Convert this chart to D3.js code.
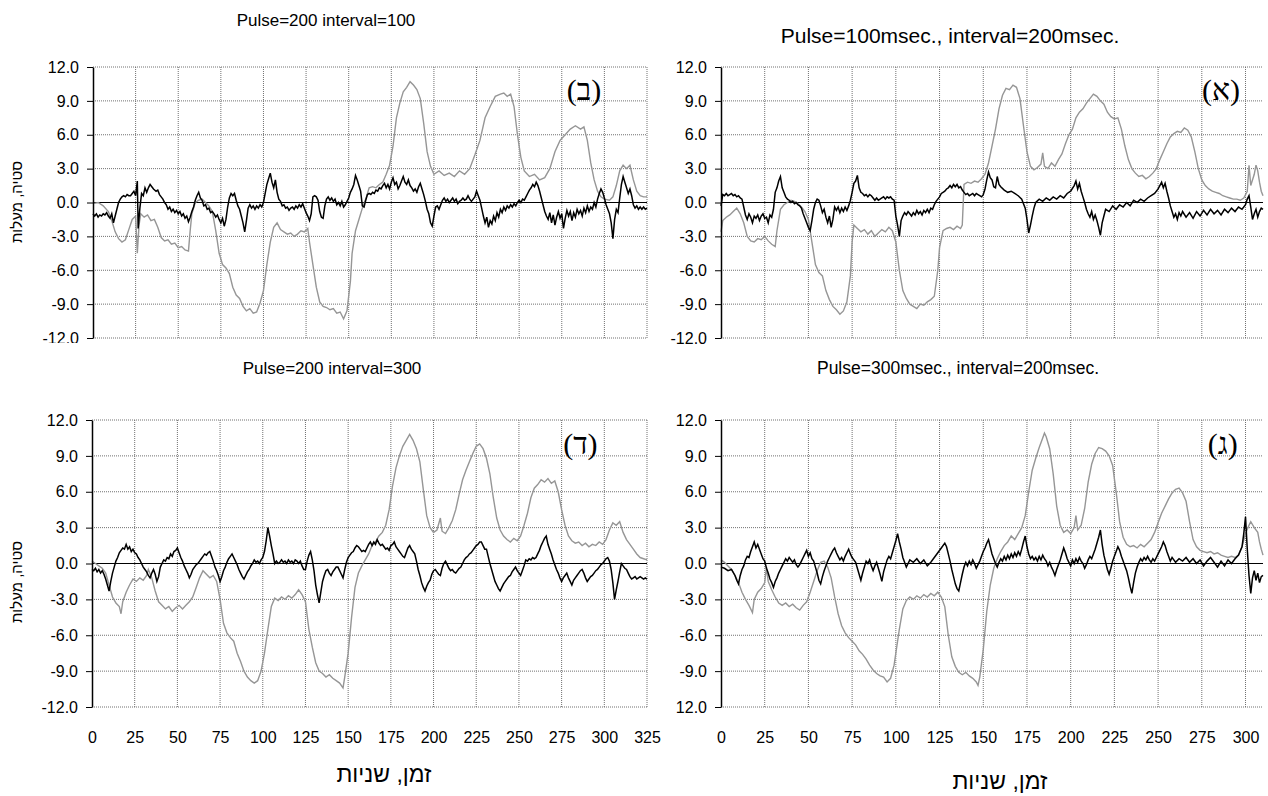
<!DOCTYPE html>
<html>
<head>
<meta charset="utf-8">
<script src="https://cdnjs.cloudflare.com/ajax/libs/d3/7.8.5/d3.min.js"></script>
<style>
body { margin: 0; background: #fff; }
text { font-family: "Liberation Sans", Arial, sans-serif; }
</style>
</head>
<body>
<svg id="chart" width="1268" height="796"></svg>
<script>
var xTicksLeft = [0, 25, 50, 75, 100, 125, 150, 175, 200, 225, 250, 275, 300, 325];
var xTicksRight = [0, 25, 50, 75, 100, 125, 150, 175, 200, 225, 250, 275, 300];
var yTicks = [12, 9, 6, 3, 0, -3, -6, -9, -12];
var yTickLabels = ["12.0", "9.0", "6.0", "3.0", "0.0", "-3.0", "-6.0", "-9.0", "-12.0"];
var yTickLabelsGimel = ["12.0", "9.0", "6.0", "3.0", "0.0", "-3.0", "-6.0", "-9.0", "12.0"];

var titleBet = "Pulse=200 interval=100";
var titleAlef = "Pulse=100msec., interval=200msec.";
var titleDalet = "Pulse=200 interval=300";
var titleGimel = "Pulse=300msec., interval=200msec.";
var yAxisTitle = "סטיה, מעלות";
var xAxisTitle = "זמן, שניות";

// [time (s), deviation (deg)]
var betGray = [[0,-0.1],[3,0.0],[6,-0.3],[9,-0.8],[11,-1.6],[13,-2.6],[15,-3.2],[17,-3.5],[19,-3.3],[21,-2.4],[23,-1.5],[25,-1.2],[26,-4.5],[27,-2.0],[28,-1.0],[30,-1.3],[32,-1.1],[34,-1.6],[36,-1.5],[38,-2.2],[40,-3.1],[42,-3.4],[44,-3.3],[46,-3.7],[48,-3.6],[50,-4.0],[52,-3.9],[54,-4.2],[56,-4.3],[57,-2.5],[58,-1.0],[60,0.0],[62,0.2],[64,0.3],[66,0.0],[68,-0.3],[70,-0.8],[72,-2.5],[74,-4.5],[76,-5.5],[78,-5.8],[80,-6.3],[82,-7.5],[84,-8.2],[86,-8.5],[88,-9.2],[90,-9.6],[92,-9.4],[94,-9.8],[96,-9.7],[98,-8.9],[100,-7.8],[102,-5.5],[104,-3.5],[106,-2.2],[108,-1.8],[110,-2.4],[112,-2.6],[114,-2.8],[116,-2.7],[118,-3.0],[120,-2.8],[122,-2.5],[124,-2.6],[126,-2.3],[127,-3.5],[129,-5.5],[131,-7.5],[133,-8.8],[135,-9.2],[137,-9.3],[139,-9.5],[141,-9.4],[143,-9.8],[145,-9.7],[147,-10.3],[149,-9.6],[151,-7.0],[152,-4.5],[154,-2.5],[156,-1.5],[158,-0.5],[160,0.3],[162,1.3],[164,1.4],[166,1.3],[168,1.6],[170,1.8],[172,2.5],[174,3.3],[176,5.0],[178,7.5],[180,8.8],[182,9.8],[184,10.2],[186,10.7],[188,10.4],[190,10.0],[192,9.2],[194,7.0],[196,4.5],[198,3.2],[200,2.5],[203,2.8],[206,2.4],[209,2.6],[212,2.3],[215,2.8],[218,2.5],[221,3.0],[224,4.2],[227,5.5],[230,7.5],[233,8.5],[236,9.4],[239,9.6],[241,9.7],[243,9.4],[245,9.6],[247,8.5],[249,6.0],[251,4.0],[253,2.8],[256,2.3],[259,2.5],[262,2.0],[265,2.2],[268,3.0],[271,4.5],[274,5.5],[277,6.0],[280,6.5],[283,6.8],[286,6.5],[288,6.7],[290,5.5],[292,3.5],[294,2.0],[296,1.0],[298,0.5],[300,0.3],[303,0.2],[305,0.5],[307,1.5],[309,2.8],[311,3.3],[313,3.0],[315,3.3],[317,2.0],[319,1.0],[321,0.6],[323,0.5],[325,0.5]];

var betBlack = [[0,-1.0],[1,-1.2],[2,-1.0],[3,-1.3],[4,-1.1],[5,-1.2],[6,-1.0],[7,-1.1],[8,-0.9],[9,-1.2],[10,-1.4],[11,-1.0],[12,-1.8],[13,-1.2],[14,-0.6],[15,0.0],[16,0.3],[17,0.5],[18,0.6],[19,0.5],[20,0.7],[21,0.6],[22,0.6],[23,0.8],[24,1.0],[25,0.6],[26,1.9],[26.5,-2.3],[27.5,-0.5],[28.5,0.8],[29.5,0.6],[30.5,1.3],[31.5,0.9],[32.5,1.3],[33.5,1.6],[34.5,1.4],[35.5,1.2],[37,1.0],[38,1.1],[39,0.7],[40,0.5],[41,0.3],[42,0.0],[43,-0.2],[44,-0.6],[45,-0.4],[46,-0.8],[47,-0.6],[48,-0.9],[49,-0.7],[50,-1.0],[51,-0.8],[52,-1.2],[53,-1.0],[54,-1.4],[55,-1.2],[56,-1.7],[57,-1.3],[58,-0.8],[59,-0.4],[60,0.2],[61,0.6],[62,0.9],[63,0.4],[64,0.2],[65,-0.3],[66,-0.2],[67,-0.6],[68,-0.5],[69,-0.9],[70,-0.8],[71,-1.0],[72,-1.3],[73,-1.1],[74,-1.5],[75,-1.8],[76,-1.4],[77,-2.1],[78,-1.5],[79,-0.4],[80,0.4],[81,0.8],[82,0.6],[83,0.8],[84,0.2],[85,-0.3],[86,-0.6],[87,-1.2],[88,-1.8],[89,-2.6],[90,-1.6],[91,-0.5],[92,-0.2],[93,-0.5],[94,-0.3],[95,-0.6],[96,-0.3],[97,-0.5],[98,-0.2],[99,-0.4],[100,0.0],[101,0.8],[102,1.6],[103,2.1],[104,2.6],[105,1.8],[106,1.3],[107,2.0],[108,0.9],[109,0.3],[110,0.1],[111,-0.3],[112,-0.2],[113,-0.5],[114,-0.4],[115,-0.7],[116,-0.5],[117,-0.4],[118,-0.6],[119,-0.3],[120,-0.5],[121,-0.2],[122,-0.4],[123,-0.1],[124,-0.5],[125,-0.9],[126,-1.2],[127,-1.6],[128,-1.0],[129,0.5],[130,0.6],[131,0.5],[132,0.2],[133,-0.8],[134,-1.3],[135,-1.4],[136,-0.3],[137,0.3],[138,0.5],[139,0.2],[140,0.4],[141,0.1],[142,0.3],[143,-0.2],[144,0.0],[145,-0.3],[146,0.1],[147,-0.4],[148,-0.2],[149,0.1],[150,0.4],[151,0.9],[152,1.2],[153,1.6],[154,2.4],[155,2.0],[156,1.5],[157,1.0],[158,-0.3],[159,-0.4],[160,0.2],[161,0.7],[162,0.8],[163,0.7],[164,0.9],[165,0.8],[166,1.1],[167,1.0],[168,1.3],[169,1.2],[170,1.5],[171,1.7],[172,1.3],[173,1.6],[174,1.2],[175,1.8],[176,2.2],[177,1.6],[178,1.8],[179,1.2],[180,1.5],[181,1.9],[182,2.3],[183,1.8],[184,1.6],[185,2.0],[186,1.5],[187,1.3],[188,1.0],[189,1.2],[190,0.9],[191,1.4],[192,1.7],[193,1.2],[194,0.7],[195,0.1],[196,-0.6],[197,-1.0],[198,-1.8],[199,-2.1],[200,-1.2],[201,-0.4],[202,-0.3],[203,-0.6],[204,-0.2],[205,0.2],[206,0.4],[207,0.1],[208,0.3],[209,0.0],[210,0.2],[211,0.4],[212,0.1],[213,0.3],[214,-0.1],[215,0.1],[216,0.2],[217,0.4],[218,0.2],[219,0.3],[220,0.6],[221,0.3],[222,0.1],[223,0.3],[224,0.5],[225,1.0],[226,0.6],[227,0.2],[228,-0.5],[229,-1.2],[230,-1.8],[231,-1.3],[232,-2.2],[233,-1.6],[234,-1.9],[235,-1.2],[236,-1.6],[237,-0.9],[238,-1.3],[239,-0.6],[240,-0.9],[241,-0.4],[242,-0.7],[243,-0.3],[244,-0.5],[245,-0.2],[246,-0.4],[247,-0.1],[248,-0.3],[249,0.0],[250,0.2],[251,0.0],[252,0.3],[253,0.2],[254,0.5],[255,0.8],[256,1.1],[257,1.3],[258,1.6],[259,1.4],[260,1.8],[261,1.5],[262,1.0],[263,0.4],[264,-0.2],[265,-0.8],[266,-1.2],[267,-1.5],[268,-0.9],[269,-1.8],[270,-1.1],[271,-2.0],[272,-1.3],[273,-0.8],[274,-1.4],[275,-1.0],[276,-2.3],[277,-1.4],[278,-0.7],[279,-1.2],[280,-0.8],[281,-1.6],[282,-0.9],[283,-1.3],[284,-0.6],[285,-1.0],[286,-0.7],[287,-1.2],[288,-0.5],[289,-0.9],[290,-0.3],[291,-0.8],[292,-0.4],[293,-0.6],[294,0.0],[295,-0.4],[296,0.3],[297,0.8],[298,1.2],[299,0.9],[300,0.4],[301,-0.2],[302,-0.6],[303,-1.0],[304,-1.8],[305,-3.2],[306,-1.5],[307,-0.6],[308,-0.9],[309,0.4],[310,1.6],[311,2.3],[312,1.8],[313,1.3],[314,0.8],[315,1.2],[316,0.6],[317,-0.2],[318,-0.5],[319,-0.3],[320,-0.6],[321,-0.4],[322,-0.6],[323,-0.4],[324,-0.6],[325,-0.5]];

var alefGray = [[0,-2.6],[1,-1.6],[3,-1.3],[5,-1.1],[7,-0.8],[9,-0.5],[11,-1.0],[13,-1.8],[15,-3.0],[17,-3.4],[19,-3.5],[21,-3.2],[23,-3.3],[25,-3.0],[27,-3.4],[29,-3.7],[31,-3.9],[32,-2.5],[34,-0.6],[36,-0.2],[38,0.0],[40,0.2],[42,0.1],[44,-0.1],[46,-0.4],[48,-0.8],[50,-1.5],[52,-3.5],[54,-5.5],[56,-6.2],[58,-6.5],[60,-7.8],[62,-8.6],[64,-9.2],[66,-9.5],[68,-9.9],[70,-9.6],[72,-8.8],[74,-6.5],[75,-3.5],[76,-2.0],[78,-2.3],[80,-2.6],[82,-2.4],[84,-2.8],[86,-2.5],[88,-3.0],[90,-2.7],[92,-2.4],[94,-2.6],[96,-2.2],[98,-2.5],[100,-3.5],[102,-6.0],[104,-7.8],[106,-8.5],[108,-9.0],[110,-9.2],[112,-9.4],[114,-9.0],[116,-9.1],[118,-8.8],[120,-8.6],[122,-8.3],[124,-6.0],[125,-4.0],[127,-2.5],[129,-2.3],[131,-2.2],[133,-2.4],[135,-2.1],[137,-2.3],[138,-2.0],[139,1.6],[141,1.8],[143,1.7],[145,1.9],[147,1.8],[149,2.1],[151,2.5],[153,3.5],[155,5.0],[157,6.5],[159,8.3],[161,9.5],[163,10.1],[165,10.0],[167,10.4],[169,10.2],[171,9.2],[173,6.8],[175,4.5],[177,3.2],[179,2.9],[181,3.1],[183,3.4],[184,4.4],[185,3.2],[187,3.0],[189,3.5],[191,3.2],[193,3.8],[195,4.3],[197,5.2],[199,6.0],[201,6.5],[203,7.5],[205,8.0],[207,8.3],[209,8.8],[211,9.2],[213,9.6],[215,9.4],[217,9.0],[219,8.7],[221,8.0],[223,7.6],[225,7.4],[227,7.5],[229,6.5],[231,5.0],[233,3.8],[235,3.0],[237,2.6],[239,2.3],[241,2.4],[243,2.1],[245,2.3],[247,2.6],[249,3.0],[251,3.8],[253,4.5],[255,5.2],[257,5.8],[259,6.1],[261,6.3],[263,6.2],[265,6.6],[267,6.4],[269,5.8],[271,4.5],[273,3.0],[275,2.0],[277,1.5],[279,1.2],[281,1.0],[283,0.9],[285,0.8],[287,0.6],[289,0.5],[291,0.4],[293,0.3],[295,0.3],[297,0.2],[299,0.4],[301,1.0],[302,3.3],[303,1.5],[305,2.5],[306,3.3],[307,2.8],[308,1.8],[309,1.0],[310,0.6]];

var alefBlack = [[0,-0.3],[1,0.7],[2,0.6],[3,0.8],[4,0.6],[5,0.7],[6,0.8],[7,0.6],[8,0.7],[9,0.5],[10,0.6],[11,0.4],[12,0.3],[13,-0.4],[14,-1.1],[15,-1.5],[16,-1.0],[17,-1.3],[18,-1.8],[19,-1.2],[20,-1.4],[21,-1.1],[22,-1.6],[23,-1.2],[24,-1.0],[25,-1.4],[26,-1.3],[27,-1.8],[28,-1.1],[29,-1.3],[30,-0.6],[31,0.9],[32,1.3],[33,1.9],[34,2.3],[35,1.3],[36,0.9],[37,0.5],[38,0.3],[39,0.2],[40,0.0],[41,0.1],[42,-0.1],[43,0.0],[44,-0.2],[45,-0.3],[46,-0.5],[47,-1.0],[48,-1.4],[49,-1.8],[50,-2.2],[51,-2.5],[52,-1.6],[53,-0.6],[54,0.0],[55,0.3],[56,0.2],[57,-0.3],[58,-0.9],[59,-0.6],[60,-1.3],[61,-1.8],[62,-1.2],[63,-2.2],[64,-1.5],[65,-0.4],[66,-0.7],[67,-0.4],[68,-0.9],[69,-0.5],[70,-0.8],[71,-0.4],[72,-0.7],[73,-0.3],[74,0.2],[75,0.9],[76,1.7],[77,1.9],[78,2.4],[79,1.3],[80,0.9],[81,0.8],[82,0.6],[83,0.7],[84,0.5],[85,0.7],[86,0.6],[87,0.4],[88,0.2],[89,0.4],[90,0.2],[91,0.3],[92,0.4],[93,0.5],[94,0.3],[95,0.5],[96,0.4],[97,0.5],[98,0.3],[99,0.2],[100,-1.2],[101,-2.0],[102,-3.0],[103,-1.6],[104,-1.2],[105,-0.9],[106,-1.1],[107,-0.8],[108,-1.0],[109,-1.2],[110,-0.9],[111,-1.1],[112,-0.7],[113,-1.0],[114,-0.8],[115,-1.1],[116,-0.7],[117,-0.9],[118,-0.6],[119,-0.9],[120,-0.5],[121,-0.6],[122,-0.2],[123,0.1],[124,0.3],[125,0.5],[126,0.8],[127,0.9],[128,1.0],[129,1.2],[130,1.3],[131,1.5],[132,1.3],[133,1.6],[134,1.4],[135,1.6],[136,1.3],[137,1.4],[138,1.1],[139,0.9],[140,0.7],[141,0.8],[142,0.6],[143,0.7],[144,0.8],[145,0.6],[146,0.8],[147,0.7],[148,0.6],[149,0.5],[150,0.7],[151,1.2],[152,2.0],[153,2.7],[154,2.2],[155,2.0],[156,1.4],[157,1.3],[158,2.3],[159,1.6],[160,1.4],[162,1.1],[164,0.9],[166,1.0],[168,0.8],[170,0.6],[172,0.3],[174,-0.5],[175,-1.5],[176,-2.7],[177,-2.0],[178,-1.2],[179,-0.5],[180,0.0],[182,0.3],[184,0.1],[186,0.4],[188,0.2],[190,0.5],[192,0.3],[194,0.6],[196,0.4],[198,0.8],[200,1.0],[202,1.5],[203,1.9],[204,1.2],[205,1.7],[206,1.0],[207,0.5],[208,0.0],[209,-0.6],[210,-1.0],[211,-1.3],[212,-0.8],[213,-1.5],[214,-1.1],[215,-1.6],[216,-2.2],[217,-2.9],[218,-1.8],[219,-1.2],[220,-0.6],[222,-0.8],[224,-0.3],[226,-0.6],[228,-0.2],[230,-0.4],[232,0.0],[234,-0.3],[236,0.2],[238,0.0],[240,0.3],[242,0.1],[244,0.4],[246,0.6],[248,0.8],[250,1.2],[251,1.5],[252,1.8],[253,1.3],[254,1.7],[255,1.0],[256,0.4],[257,-0.3],[258,-0.8],[259,-1.3],[260,-1.0],[261,-1.5],[262,-0.9],[263,-1.2],[264,-0.8],[266,-1.3],[268,-0.9],[270,-1.4],[272,-0.8],[274,-1.2],[276,-0.7],[278,-1.1],[280,-0.6],[282,-1.0],[284,-0.7],[286,-1.1],[288,-0.6],[290,-0.9],[292,-0.5],[294,-0.8],[296,-0.4],[298,-0.6],[300,-0.2],[301,0.3],[302,0.6],[303,-0.4],[304,-1.5],[305,-1.0],[306,-0.6],[307,-1.3],[308,-0.8],[309,-0.5],[310,-0.6]];

var daletGray = [[0,0.2],[2,0.0],[4,-0.2],[6,-0.4],[8,-0.8],[10,-1.8],[12,-2.8],[14,-3.3],[16,-3.6],[17,-4.2],[18,-3.2],[20,-2.4],[22,-1.8],[24,-1.3],[26,-1.5],[28,-1.2],[30,-1.4],[32,-1.0],[33,-0.5],[35,-1.2],[37,-2.3],[39,-3.2],[41,-3.5],[43,-3.8],[45,-3.6],[47,-4.0],[49,-3.7],[51,-3.5],[53,-3.8],[55,-3.5],[57,-3.2],[59,-2.8],[61,-2.0],[63,-1.2],[65,-0.6],[67,-0.9],[69,-1.2],[71,-1.0],[73,-1.5],[75,-3.0],[77,-5.0],[79,-5.8],[81,-6.2],[83,-6.5],[85,-7.5],[87,-8.2],[89,-9.0],[91,-9.5],[93,-9.8],[95,-10.0],[97,-9.8],[99,-9.0],[101,-7.5],[103,-5.5],[105,-3.6],[107,-2.9],[109,-3.1],[111,-2.8],[113,-3.0],[115,-2.7],[117,-2.9],[119,-2.6],[121,-2.2],[123,-2.6],[125,-3.2],[127,-5.5],[129,-7.0],[131,-8.3],[133,-9.0],[135,-9.2],[137,-9.5],[139,-9.3],[141,-9.6],[143,-9.8],[145,-10.0],[147,-10.4],[148,-9.5],[150,-7.5],[152,-4.5],[154,-2.0],[156,-0.8],[158,-0.2],[160,0.3],[162,0.8],[164,1.5],[166,1.8],[168,2.3],[170,2.6],[172,3.2],[174,4.5],[176,6.5],[178,8.0],[180,9.0],[182,9.8],[184,10.3],[186,10.8],[188,10.3],[190,9.6],[192,8.5],[194,6.2],[196,4.0],[198,3.0],[200,2.6],[202,2.8],[204,3.8],[205,2.7],[207,2.5],[209,3.0],[211,3.6],[213,4.5],[215,5.8],[217,7.0],[219,7.8],[221,8.5],[223,9.2],[225,9.8],[227,10.0],[229,9.6],[231,8.8],[233,7.5],[235,5.5],[237,3.8],[239,2.8],[241,2.3],[243,2.0],[245,1.8],[247,2.1],[249,1.9],[251,2.3],[253,3.2],[255,4.2],[257,5.5],[259,6.3],[261,6.6],[263,7.0],[265,6.8],[267,7.1],[269,6.7],[271,6.9],[273,6.0],[275,4.5],[277,3.2],[279,2.3],[281,1.9],[283,1.7],[285,1.8],[287,1.5],[289,1.7],[291,1.4],[293,1.6],[295,1.5],[297,1.8],[299,1.6],[301,2.0],[303,2.8],[305,3.4],[307,3.2],[309,3.5],[311,2.6],[313,2.0],[315,1.6],[317,1.2],[319,0.8],[321,0.5],[323,0.4],[325,0.3]];

var daletBlack = [[0,-0.5],[1,-0.6],[2,-0.4],[3,-0.7],[4,-0.5],[5,-0.8],[6,-0.6],[7,-0.9],[8,-1.3],[9,-1.8],[10,-2.3],[11,-1.5],[12,-0.8],[13,-0.3],[14,0.2],[15,0.5],[16,0.9],[17,1.1],[18,1.3],[19,1.2],[20,1.6],[21,1.2],[22,1.4],[23,1.0],[24,1.2],[25,0.9],[26,0.8],[27,0.5],[28,0.3],[29,0.0],[30,-0.3],[31,-0.5],[32,-0.7],[33,-1.0],[34,-1.2],[35,-0.8],[36,-0.5],[37,-0.9],[38,-1.5],[39,-1.1],[40,-0.3],[41,0.0],[42,0.3],[43,0.2],[44,0.5],[45,0.4],[46,0.8],[47,0.6],[48,1.0],[49,1.1],[50,1.3],[51,0.9],[52,0.5],[53,0.2],[54,-0.2],[55,-0.5],[56,-0.8],[57,-1.2],[58,-0.9],[59,-0.5],[60,-0.3],[61,-0.1],[62,0.0],[63,0.2],[64,0.4],[65,0.6],[66,0.8],[67,0.7],[68,0.9],[69,1.0],[70,0.6],[71,0.2],[72,-0.3],[73,-0.6],[74,-1.0],[75,-1.5],[76,-1.1],[77,-0.6],[78,-0.3],[79,0.1],[80,0.4],[81,0.6],[82,0.8],[83,0.5],[84,0.2],[85,-0.1],[86,-0.5],[87,-0.8],[88,-1.1],[89,-1.3],[90,-1.0],[91,-0.7],[92,-0.5],[93,-0.2],[94,0.0],[95,0.3],[96,0.1],[97,0.2],[98,0.0],[99,0.3],[100,0.5],[101,1.0],[102,1.9],[103,3.0],[104,2.3],[105,1.5],[106,0.8],[107,0.0],[108,0.2],[109,0.0],[110,0.1],[111,0.3],[112,0.1],[113,0.2],[114,0.0],[115,0.3],[116,0.1],[117,0.2],[118,0.0],[119,0.3],[120,0.2],[121,0.0],[122,0.2],[123,-0.2],[124,-0.5],[125,-0.5],[126,0.2],[127,0.7],[128,1.0],[129,0.3],[130,-0.6],[131,-1.8],[132,-2.6],[133,-3.3],[134,-2.4],[135,-1.5],[136,-1.0],[137,-0.6],[138,-0.5],[139,-0.8],[140,-1.0],[141,-0.7],[142,-0.5],[143,-0.3],[144,-0.3],[145,-0.6],[146,-0.9],[147,-1.2],[148,-0.5],[149,0.1],[150,0.5],[151,0.7],[152,0.9],[153,1.0],[154,1.3],[155,1.5],[156,1.4],[157,1.2],[158,1.0],[159,1.1],[160,1.0],[161,1.3],[162,1.6],[163,1.8],[164,1.5],[165,1.8],[166,1.6],[167,2.0],[168,1.7],[169,1.5],[170,1.6],[171,1.4],[172,1.2],[173,1.3],[174,1.1],[175,1.5],[176,1.6],[177,1.8],[178,1.4],[179,1.2],[180,1.0],[181,0.8],[182,0.6],[183,0.5],[184,0.9],[185,1.3],[186,1.5],[187,1.2],[188,1.0],[189,0.8],[190,0.2],[191,-0.5],[192,-1.0],[193,-1.6],[194,-2.0],[195,-2.3],[196,-1.9],[197,-1.6],[198,-1.4],[199,-0.9],[200,-0.6],[201,-0.5],[202,-0.7],[203,-0.9],[204,-1.0],[205,-0.4],[206,0.0],[207,0.2],[208,-0.1],[209,-0.4],[210,-0.6],[211,-0.5],[212,-0.7],[213,-0.8],[214,-0.6],[215,-0.4],[216,-0.3],[217,0.0],[218,0.3],[219,0.5],[220,0.6],[221,0.8],[222,0.9],[223,1.1],[224,1.3],[225,1.5],[226,1.6],[227,1.8],[228,1.8],[229,1.5],[230,1.2],[231,1.2],[232,0.6],[233,0.0],[234,-0.5],[235,-1.0],[236,-1.5],[237,-1.8],[238,-2.1],[239,-2.3],[240,-2.0],[241,-1.7],[242,-1.5],[243,-1.3],[244,-1.1],[245,-1.0],[246,-0.7],[247,-0.5],[248,-0.3],[249,-0.6],[250,-0.8],[251,-1.0],[252,-0.6],[253,-0.2],[254,0.3],[255,0.2],[256,0.4],[257,0.3],[258,0.5],[259,0.4],[260,0.5],[261,0.8],[262,1.1],[263,1.5],[264,1.8],[265,2.1],[266,2.3],[267,1.6],[268,1.2],[269,0.8],[270,0.3],[271,-0.1],[272,-0.5],[273,-0.8],[274,-1.2],[275,-1.5],[276,-1.2],[277,-1.0],[278,-0.8],[279,-1.2],[280,-1.5],[281,-1.8],[282,-1.4],[283,-1.2],[284,-1.0],[285,-0.8],[286,-0.6],[287,-0.5],[288,-0.8],[289,-1.2],[290,-1.5],[291,-1.3],[292,-1.1],[293,-1.0],[294,-0.8],[295,-0.6],[296,-0.5],[297,-0.3],[298,-0.1],[299,0.0],[300,0.2],[301,0.4],[302,0.5],[303,0.2],[304,-0.5],[305,-1.6],[306,-3.0],[307,-2.2],[308,-1.5],[309,-0.7],[310,0.0],[311,-0.2],[312,-0.4],[313,-0.5],[314,-0.8],[315,-1.1],[316,-1.3],[317,-1.2],[318,-1.1],[319,-1.3],[320,-1.2],[321,-1.1],[322,-1.2],[323,-1.3],[324,-1.2],[325,-1.3]];

var gimelGray = [[0,0.3],[2,0.1],[4,-0.2],[6,-0.5],[8,-1.0],[10,-1.6],[12,-2.4],[14,-3.0],[16,-3.5],[18,-4.1],[19,-3.0],[21,-2.4],[23,-2.1],[25,-1.6],[26,-0.3],[27,-1.5],[29,-2.2],[31,-2.8],[33,-3.3],[35,-3.5],[37,-3.3],[39,-3.6],[41,-3.4],[43,-3.7],[45,-3.9],[47,-3.5],[49,-3.2],[51,-2.4],[53,-1.5],[55,-0.6],[57,0.1],[59,0.2],[61,-0.3],[63,-1.2],[65,-2.8],[67,-4.2],[69,-5.2],[71,-5.8],[73,-6.2],[75,-6.5],[77,-6.8],[79,-7.3],[81,-7.6],[83,-8.0],[85,-8.5],[87,-8.9],[89,-9.2],[91,-9.4],[93,-9.5],[95,-9.9],[97,-9.6],[99,-8.5],[100,-7.5],[102,-5.5],[104,-3.8],[106,-3.1],[108,-2.8],[110,-3.0],[112,-2.7],[114,-2.9],[116,-2.6],[118,-2.8],[120,-2.5],[122,-2.7],[124,-2.4],[126,-2.8],[128,-3.6],[130,-6.0],[132,-7.8],[134,-8.6],[136,-9.1],[138,-9.3],[140,-9.1],[142,-9.4],[144,-9.6],[146,-9.9],[147,-10.2],[148,-9.5],[150,-7.2],[152,-4.0],[154,-1.8],[156,-0.4],[158,0.4],[160,1.0],[162,1.5],[164,1.8],[166,2.3],[168,2.0],[170,2.5],[172,3.0],[174,4.0],[176,6.0],[178,7.8],[180,8.8],[182,9.7],[184,10.5],[185,10.9],[186,10.6],[188,9.6],[190,7.5],[192,4.8],[194,3.2],[196,2.6],[198,2.8],[200,2.5],[202,3.0],[203,4.0],[204,2.8],[206,3.2],[208,4.6],[210,6.8],[212,8.3],[214,9.2],[216,9.7],[218,9.6],[220,9.4],[222,9.0],[224,8.2],[226,6.0],[228,3.5],[230,2.2],[232,1.6],[234,1.4],[236,1.5],[238,1.3],[240,1.6],[242,1.4],[244,1.7],[246,2.0],[248,2.6],[250,3.4],[252,4.2],[254,4.8],[256,5.4],[258,5.9],[260,6.2],[262,6.3],[264,5.9],[266,5.2],[268,3.5],[270,2.0],[272,1.4],[274,1.1],[276,1.0],[278,0.9],[280,1.0],[282,0.8],[284,0.9],[286,0.7],[288,0.6],[290,0.5],[292,0.6],[294,0.5],[296,0.7],[298,1.4],[300,2.5],[302,3.2],[303,3.5],[305,3.0],[307,2.6],[308,1.8],[309,1.2],[310,0.7]];

var gimelBlack = [[0,-0.3],[2,-0.4],[4,-0.6],[6,-0.5],[8,-1.0],[9,-1.4],[10,-1.7],[11,-1.0],[12,-0.5],[13,-0.2],[14,0.3],[15,0.6],[16,0.5],[17,1.0],[18,1.4],[19,1.8],[20,1.3],[21,1.6],[22,1.2],[23,0.8],[24,0.4],[25,0.2],[26,-0.4],[27,-0.8],[28,-1.3],[29,-1.6],[30,-2.0],[31,-1.5],[32,-1.2],[33,-0.8],[34,-0.5],[35,-0.2],[36,0.1],[37,0.4],[38,0.2],[39,0.5],[40,0.3],[41,0.1],[42,0.3],[43,-0.1],[44,-0.3],[45,-0.1],[46,0.2],[47,0.5],[48,0.8],[49,1.1],[50,0.6],[51,0.9],[52,0.4],[53,0.2],[54,-0.3],[55,-0.8],[56,-1.4],[57,-1.7],[58,-1.1],[59,-0.6],[60,-0.2],[61,0.2],[62,0.5],[63,0.8],[64,1.1],[65,1.3],[66,0.9],[67,0.6],[68,0.3],[69,0.5],[70,0.2],[71,0.6],[72,0.9],[73,1.2],[74,0.8],[75,0.5],[76,0.3],[77,0.1],[78,-0.4],[79,-0.9],[80,-1.4],[81,-0.8],[82,-0.3],[83,0.2],[84,0.0],[85,0.3],[86,-0.2],[87,-0.6],[88,-0.2],[89,0.1],[90,-0.4],[91,-0.9],[92,-1.5],[93,-0.7],[94,-0.2],[95,0.3],[96,0.6],[97,0.4],[98,0.9],[99,1.4],[100,1.9],[101,2.5],[102,1.8],[103,1.2],[104,0.5],[105,0.1],[106,-0.3],[107,0.0],[108,0.3],[110,0.1],[112,0.4],[114,0.0],[116,0.3],[118,-0.2],[120,0.1],[122,0.5],[124,0.9],[126,1.3],[128,1.7],[129,1.4],[130,0.8],[131,0.2],[132,-0.5],[133,-1.1],[134,-1.7],[135,-2.1],[136,-2.3],[137,-1.6],[138,-0.9],[139,-0.3],[140,0.1],[141,-0.2],[142,0.2],[143,-0.1],[144,0.3],[145,0.0],[146,-0.4],[147,-0.1],[148,0.2],[149,0.6],[150,1.0],[151,1.3],[152,1.7],[153,2.0],[154,1.4],[155,0.8],[156,0.4],[157,0.0],[158,-0.3],[159,0.1],[160,0.4],[161,0.2],[162,0.6],[163,0.3],[164,0.7],[165,0.4],[166,0.8],[167,0.5],[168,0.9],[169,0.6],[170,1.0],[171,0.7],[172,1.2],[173,1.8],[174,2.3],[175,1.4],[176,0.8],[177,0.4],[178,0.6],[179,0.3],[180,0.5],[181,0.2],[182,0.6],[183,0.3],[184,0.7],[185,0.4],[186,0.2],[187,-0.2],[188,0.1],[189,-0.3],[190,-0.6],[191,-1.0],[192,-0.5],[193,-0.1],[194,0.3],[195,0.8],[196,1.3],[197,0.9],[198,0.4],[199,0.1],[200,-0.2],[201,0.3],[202,0.0],[203,0.4],[204,0.1],[205,0.5],[206,0.2],[207,0.0],[208,-0.4],[209,-0.1],[210,0.3],[211,0.6],[212,0.4],[213,0.8],[214,1.2],[215,1.7],[216,2.2],[217,2.8],[218,1.6],[219,0.7],[220,0.1],[221,-0.5],[222,-0.9],[223,-0.4],[224,0.2],[225,0.6],[226,1.0],[227,1.4],[228,1.1],[229,0.6],[230,0.2],[231,-0.2],[232,-0.6],[233,-1.2],[234,-1.9],[235,-2.5],[236,-1.6],[237,-0.8],[238,-0.3],[239,0.1],[240,0.4],[241,0.2],[242,0.5],[243,0.3],[244,0.6],[245,0.3],[246,0.1],[247,0.4],[248,0.2],[249,0.5],[250,0.8],[251,1.1],[252,1.4],[253,1.8],[254,1.5],[255,1.0],[256,0.6],[257,0.2],[258,0.5],[259,0.3],[260,0.1],[262,0.4],[264,0.2],[266,0.5],[268,0.1],[270,0.4],[272,0.0],[274,0.3],[276,-0.2],[278,0.2],[280,0.5],[282,0.1],[284,-0.3],[286,0.2],[288,-0.2],[290,0.3],[292,0.0],[294,0.4],[296,0.7],[298,1.4],[299,2.5],[300,3.9],[301,1.2],[302,-1.0],[303,-2.5],[304,-1.2],[305,-0.6],[306,-1.4],[307,-0.8],[308,-1.6],[309,-1.1],[310,-1.0]];

var svg = d3.select("#chart");
svg.append("rect").attr("width", 1268).attr("height", 796).attr("fill", "#fff");

function drawPanel(p) {
    var g = svg.append("g");
    if (p.clipBottom) {
        svg.append("clipPath").attr("id", p.id + "-clip")
            .append("rect").attr("x", 0).attr("y", 0).attr("width", 1268).attr("height", p.clipBottom);
        g.attr("clip-path", "url(#" + p.id + "-clip)");
    }
    var x = d3.scaleLinear().domain([0, p.xMax]).range([p.left, p.right]);
    var y = d3.scaleLinear().domain([-12, 12]).range([p.bottom, p.top]);

    g.selectAll("line.hgrid").data(yTicks).enter().append("line")
        .attr("class", "hgrid")
        .attr("x1", p.left).attr("x2", p.right)
        .attr("y1", function (d) { return y(d); })
        .attr("y2", function (d) { return y(d); })
        .attr("stroke", "#707070").attr("stroke-width", 1)
        .attr("stroke-dasharray", "1,1");

    g.selectAll("line.vgrid").data(p.xTicks.filter(function (d) { return d > 0; })).enter().append("line")
        .attr("class", "vgrid")
        .attr("x1", function (d) { return x(d); })
        .attr("x2", function (d) { return x(d); })
        .attr("y1", p.top).attr("y2", p.bottom)
        .attr("stroke", "#707070").attr("stroke-width", 1)
        .attr("stroke-dasharray", "1,1");

    var line = d3.line()
        .x(function (d) { return x(d[0]); })
        .y(function (d) { return y(d[1]); });

    g.append("line")
        .attr("x1", p.left).attr("x2", p.right)
        .attr("y1", y(0)).attr("y2", y(0))
        .attr("stroke", "#000").attr("stroke-width", 1);

    g.append("path").datum(p.gray)
        .attr("d", line)
        .attr("fill", "none")
        .attr("stroke", "#969696")
        .attr("stroke-width", 1.4);

    g.append("path").datum(p.black)
        .attr("d", line)
        .attr("fill", "none")
        .attr("stroke", "#000")
        .attr("stroke-width", 1.5);

    var yAxis = d3.axisLeft(y)
        .tickValues(yTicks)
        .tickFormat(function (d, i) { return p.yLabels[i]; })
        .tickSize(6)
        .tickSizeOuter(0)
        .tickPadding(8);
    var ya = g.append("g")
        .attr("transform", "translate(" + p.left + ",0)")
        .call(yAxis);
    ya.select(".domain").attr("stroke", "#000").attr("stroke-width", 1.5);
    ya.selectAll(".tick line").attr("stroke", "#000");
    ya.selectAll("text")
        .attr("fill", "#000")
        .style("font-size", "16px")
        .style("font-family", "'Liberation Sans', Arial, sans-serif");

    if (p.showX) {
        var xAxis = d3.axisBottom(x)
            .tickValues(p.xTicks)
            .tickFormat(function (d) { return String(d); })
            .tickSize(0)
            .tickPadding(25);
        var xa = g.append("g")
            .attr("transform", "translate(0," + p.bottom + ")")
            .call(xAxis);
        xa.select(".domain").remove();
        xa.selectAll("text")
            .attr("fill", "#000")
            .style("font-size", "16px")
            .style("font-family", "'Liberation Sans', Arial, sans-serif");
    }

    g.append("text")
        .attr("x", x(p.letterAt[0]))
        .attr("y", y(p.letterAt[1]))
        .attr("dy", "0.35em")
        .attr("text-anchor", "middle")
        .style("font-family", "'Liberation Serif', 'Times New Roman', serif")
        .style("font-size", "30px")
        .text(p.letter);

    svg.append("text")
        .attr("x", p.titleX)
        .attr("y", p.titleY)
        .attr("text-anchor", "middle")
        .style("font-size", p.titleSize + "px")
        .text(p.title);
}

drawPanel({ id: "bet", left: 93, right: 647, top: 67, bottom: 338, xMax: 325, xTicks: xTicksLeft,
    yLabels: yTickLabels, gray: betGray, black: betBlack, showX: false, clipBottom: 343,
    letter: "(ב)", letterAt: [288, 10], title: titleBet, titleX: 326, titleY: 26, titleSize: 17 });

drawPanel({ id: "alef", left: 721, right: 1263, top: 67, bottom: 338, xMax: 310, xTicks: xTicksRight,
    yLabels: yTickLabels, gray: alefGray, black: alefBlack, showX: false,
    letter: "(א)", letterAt: [286, 10], title: titleAlef, titleX: 950, titleY: 43, titleSize: 21 });

drawPanel({ id: "dalet", left: 92, right: 647, top: 420, bottom: 707, xMax: 325, xTicks: xTicksLeft,
    yLabels: yTickLabels, gray: daletGray, black: daletBlack, showX: true,
    letter: "(ד)", letterAt: [286, 10], title: titleDalet, titleX: 332, titleY: 374, titleSize: 17 });

drawPanel({ id: "gimel", left: 721, right: 1263, top: 420, bottom: 707, xMax: 310, xTicks: xTicksRight,
    yLabels: yTickLabelsGimel, gray: gimelGray, black: gimelBlack, showX: true,
    letter: "(ג)", letterAt: [287, 10], title: titleGimel, titleX: 958, titleY: 374, titleSize: 17.5 });

svg.append("text")
    .attr("transform", "translate(22,202) rotate(-90)")
    .attr("text-anchor", "middle")
    .style("font-size", "15px")
    .text(yAxisTitle);

svg.append("text")
    .attr("transform", "translate(22,582) rotate(-90)")
    .attr("text-anchor", "middle")
    .style("font-size", "15px")
    .text(yAxisTitle);

svg.append("text")
    .attr("x", 384).attr("y", 782)
    .attr("text-anchor", "middle")
    .style("font-size", "23px")
    .text(xAxisTitle);

svg.append("text")
    .attr("x", 1000).attr("y", 789)
    .attr("text-anchor", "middle")
    .style("font-size", "23px")
    .text(xAxisTitle);
</script>
</body>
</html>
